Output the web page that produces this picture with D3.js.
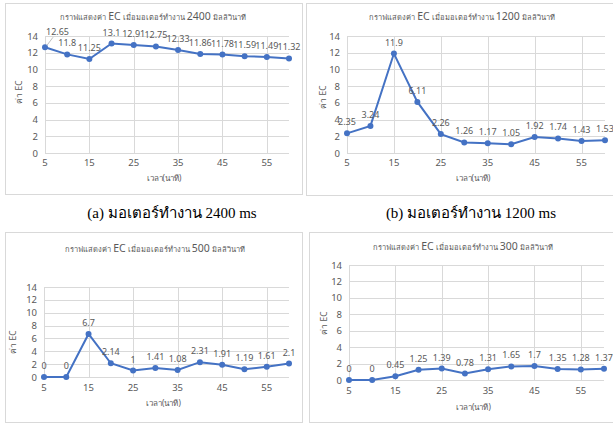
<!DOCTYPE html>
<html><head><meta charset="utf-8">
<script src="https://cdn.jsdelivr.net/npm/d3@7"></script>
<style>
body{margin:0;background:#fff;}
svg{display:block;}
</style></head>
<body>
<svg id="c" width="613" height="423"></svg>
<script>
const minutes = [5,10,15,20,25,30,35,40,45,50,55,60];
const tickLabels = [5,15,25,35,45,55];
const yTicks = [0,2,4,6,8,10,12,14];
const ec2400 = [12.65,11.8,11.25,13.1,12.91,12.75,12.33,11.86,11.78,11.59,11.49,11.32];
const ec1200 = [2.35,3.24,11.9,6.11,2.26,1.26,1.17,1.05,1.92,1.74,1.43,1.53];
const ec500  = [0,0,6.7,2.14,1,1.41,1.08,2.31,1.91,1.19,1.61,2.1];
const ec300  = [0,0,0.45,1.25,1.39,0.78,1.31,1.65,1.7,1.35,1.28,1.37];
const speeds = ["2400","1200","500","300"];
const captions = ["(a) มอเตอร์ทำงาน 2400 ms","(b) มอเตอร์ทำงาน 1200 ms"];
const titlePre = "กราฟแสดงค่า ";
const titleMid = " เมื่อมอเตอร์ทำงาน ";
const titlePost = " มิลลิวินาที";
const yTitle = "ค่า EC";
const xTitle = "เวลา(นาที)";

const series = [ec2400, ec1200, ec500, ec300];
// layout (pixel geometry of each panel)
const panels = [
  {box:[5,3,297,191], x0:45, x1:289, yTop:36, yBot:153, titleX:153, titleY:20, xLabY:166, xTitY:181, yTitX:22, yTitY:92},
  {box:[306,3,320,192], x0:347, x1:605, yTop:36, yBot:153, titleX:462, titleY:20, xLabY:166, xTitY:181, yTitX:326, yTitY:97},
  {box:[5,232,297,190], x0:44, x1:289, yTop:287, yBot:377, titleX:155, titleY:252, xLabY:391, xTitY:406, yTitX:16, yTitY:342},
  {box:[309,232,320,190], x0:349, x1:604, yTop:265, yBot:380, titleX:463, titleY:250, xLabY:394, xTitY:410, yTitX:327, yTitY:323}
];

const svg = d3.select("#c");
const blue = "#4472C4", grid = "#d9d9d9", txt = "#595959";
const font = "'Noto Sans','DejaVu Sans',sans-serif";

panels.forEach((p,i)=>{
  const g = svg.append("g");
  g.append("rect").attr("x",p.box[0]+0.5).attr("y",p.box[1]+0.5)
    .attr("width",p.box[2]).attr("height",p.box[3])
    .attr("fill","#fff").attr("stroke","#d9d9d9").attr("stroke-width",1);
  const x = d3.scaleLinear().domain([5,60]).range([p.x0,p.x1]);
  const y = d3.scaleLinear().domain([0,14]).range([p.yBot,p.yTop]);
  g.append("g").selectAll("line").data(yTicks).join("line")
    .attr("x1",p.x0).attr("x2",p.x1)
    .attr("y1",d=>Math.round(y(d))+0.5).attr("y2",d=>Math.round(y(d))+0.5)
    .attr("stroke",grid);
  g.append("g").selectAll("line").data(tickLabels).join("line")
    .attr("x1",d=>Math.round(x(d))+0.5).attr("x2",d=>Math.round(x(d))+0.5)
    .attr("y1",p.yTop).attr("y2",p.yBot)
    .attr("stroke",grid);
  g.append("g").selectAll("text").data(yTicks).join("text")
    .attr("x",p.x0-7).attr("y",d=>y(d)+3.5)
    .attr("text-anchor","end").attr("font-family",font).attr("font-size",9.5)
    .attr("fill",txt).text(d=>d);
  g.append("g").selectAll("text").data(tickLabels).join("text")
    .attr("x",d=>x(d)).attr("y",p.xLabY)
    .attr("text-anchor","middle").attr("font-family",font).attr("font-size",9.5)
    .attr("fill",txt).text(d=>d);
  const t = g.append("text").attr("x",p.titleX).attr("y",p.titleY)
    .attr("text-anchor","middle").attr("font-family",font).attr("fill",txt);
  t.append("tspan").attr("font-size",7.5).text(titlePre);
  t.append("tspan").attr("font-size",10.5).text("EC");
  t.append("tspan").attr("font-size",7.5).text(titleMid);
  t.append("tspan").attr("font-size",10.5).text(speeds[i]);
  t.append("tspan").attr("font-size",7.5).text(titlePost);
  g.append("text").attr("x",(p.x0+p.x1)/2-3).attr("y",p.xTitY)
    .attr("text-anchor","middle").attr("font-family",font).attr("font-size",8)
    .attr("fill",txt).text(xTitle);
  g.append("text").attr("transform",`translate(${p.yTitX},${p.yTitY}) rotate(-90)`)
    .attr("text-anchor","middle").attr("font-family",font).attr("font-size",8.5)
    .attr("fill",txt).text(yTitle);
  const data = series[i].map((v,k)=>({m:minutes[k],v}));
  g.append("path").datum(data)
    .attr("d",d3.line().x(d=>x(d.m)).y(d=>y(d.v)))
    .attr("fill","none").attr("stroke",blue).attr("stroke-width",2);
  g.append("g").selectAll("circle").data(data).join("circle")
    .attr("cx",d=>x(d.m)).attr("cy",d=>y(d.v)).attr("r",3).attr("fill",blue);
  const lead = (k)=> i===0 && k===0;
  g.append("g").selectAll("text").data(data).join("text")
    .attr("x",(d,k)=> lead(k) ? x(d.m)+1 : x(d.m))
    .attr("y",(d,k)=> lead(k) ? y(d.v)-12 : y(d.v)-8)
    .attr("text-anchor",(d,k)=> lead(k) ? "start" : "middle")
    .attr("font-family",font).attr("font-size",9)
    .attr("fill",txt).text(d=>d.v);
  if(i===0){
    const d0 = data[0];
    g.append("line").attr("x1",x(d0.m)+2).attr("y1",y(d0.v)-2)
      .attr("x2",x(d0.m)+8).attr("y2",y(d0.v)-10).attr("stroke","#bfbfbf");
  }
});

[[172,218],[471,218]].forEach((c,i)=>{
  svg.append("text").attr("x",c[0]).attr("y",c[1]).attr("text-anchor","middle")
    .attr("font-family","'Liberation Serif','Times New Roman',serif").attr("font-size",15)
    .attr("fill","#000").text(captions[i]);
});
</script>
</body></html>
